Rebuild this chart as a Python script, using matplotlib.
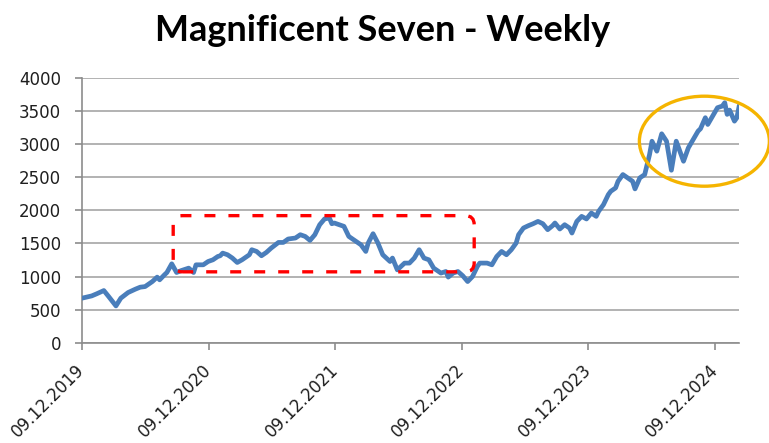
import pandas as pd
import matplotlib.pyplot as plt
import matplotlib.dates as mdates
from matplotlib.patches import FancyBboxPatch, Ellipse
from matplotlib.transforms import IdentityTransform

# Wochen seit Start (09.12.2019) und Index-Stand
weeks = [0, 4, 6, 9, 11, 14, 16, 19, 22, 24, 26, 28, 29, 31, 32, 34, 35, 37, 39, 41,
         44, 46, 47, 50, 52, 54, 56, 57, 58, 60, 62, 64, 66, 69, 70, 72, 74, 76, 78, 81,
         83, 85, 88, 90, 92, 94, 96, 98, 100, 102, 103, 104, 106, 108, 110, 113, 115, 117, 118, 120,
         122, 124, 127, 128, 130, 133, 135, 137, 139, 141, 143, 145, 148, 150, 151, 153, 155, 157, 159, 161,
         163, 164, 167, 169, 171, 173, 175, 177, 179, 180, 182, 184, 186, 188, 190, 192, 194, 195, 197, 199,
         201, 202, 204, 206, 208, 210, 212, 213, 215, 217, 218, 220, 221, 223, 225, 227, 228, 230, 232, 233,
         234, 235, 237, 239, 241, 243, 245, 247, 248, 250, 252, 254, 255, 257, 258, 260, 262, 264, 265, 266,
         267, 269, 270, 271]
values = [673, 707, 738, 788, 697, 556, 673, 758, 809, 839, 848, 900, 924, 991, 950, 1026, 1061, 1192, 1061, 1091,
          1127, 1061, 1177, 1177, 1227, 1253, 1303, 1314, 1354, 1329, 1279, 1212, 1253, 1329, 1405, 1379, 1314, 1364, 1430, 1515,
          1515, 1567, 1582, 1632, 1606, 1546, 1632, 1783, 1870, 1884, 1798, 1809, 1783, 1758, 1606, 1530, 1480, 1379, 1506, 1647,
          1506, 1329, 1227, 1279, 1101, 1203, 1203, 1279, 1405, 1279, 1253, 1127, 1052, 1076, 991, 1052, 1076, 1011, 924, 1000,
          1152, 1203, 1203, 1177, 1303, 1379, 1329, 1405, 1506, 1632, 1733, 1768, 1798, 1833, 1798, 1708, 1768, 1809, 1718, 1783,
          1733, 1657, 1833, 1909, 1870, 1960, 1909, 1985, 2086, 2238, 2288, 2339, 2439, 2541, 2491, 2439, 2324, 2491, 2541, 2692,
          2844, 3045, 2894, 3157, 3045, 2606, 3045, 2844, 2742, 2945, 3071, 3197, 3233, 3400, 3298, 3424, 3551, 3576, 3627, 3450,
          3515, 3348, 3400, 3586]

tick_labels = ['09.12.2019', '09.12.2020', '09.12.2021', '09.12.2022', '09.12.2023', '09.12.2024']

# Markierungen: rotes Rechteck (Seitwaertsphase) und Ellipse (2024)
box_weeks = [37.6, 161.7]
box_values = [1071, 1920]
ellipse_week = 256.6
ellipse_value = 3045

start = pd.Timestamp('2019-12-09')
dates = start + pd.to_timedelta([w * 7 for w in weeks], unit='D')

fig = plt.figure(figsize=(7.69, 4.43), dpi=100)
ax = fig.add_axes([82 / 769, 1 - 342.7 / 443, (739.3 - 82) / 769, (342.7 - 78) / 443])

ax.plot(dates, values, color='#4a7ebb', lw=3.4, solid_joinstyle='round', solid_capstyle='round', zorder=3)

ax.set_ylim(0, 4000)
ax.set_yticks(range(0, 4001, 500))
ax.set_xlim(dates[0], dates[-1])
ax.set_xticks([pd.Timestamp(t[6:] + '-12-09') for t in tick_labels])
ax.set_xticklabels(tick_labels, rotation=45, ha='right', va='center', rotation_mode='anchor')

ax.yaxis.grid(True, color='#a6a6a6', lw=1.2)
ax.set_axisbelow(True)
for s in ['top', 'right']:
    ax.spines[s].set_visible(False)
for s in ['left', 'bottom']:
    ax.spines[s].set_color('#8c8c8c')
    ax.spines[s].set_linewidth(1.2)
ax.tick_params(axis='both', colors='#8c8c8c', length=5, width=1.2, labelcolor='#1f1f1f', labelsize=12)
ax.tick_params(axis='y', pad=10)
ax.tick_params(axis='x', pad=13)

fig.text(0.497, 0.932, 'Magnificent Seven - Weekly', ha='center', va='center',
         fontsize=26, fontweight='bold', family='Lato')

# Rechteck in Pixelkoordinaten zeichnen, damit die Ecken rund bleiben
x0, x1 = [mdates.date2num(start + pd.Timedelta(days=w * 7)) for w in box_weeks]
p0 = ax.transData.transform((x0, box_values[0]))
p1 = ax.transData.transform((x1, box_values[1]))
box = FancyBboxPatch((p0[0], p0[1]), p1[0] - p0[0], p1[1] - p0[1],
                     boxstyle='round,pad=0,rounding_size=9', transform=IdentityTransform(),
                     fill=False, ec='#ff0000', lw=2.4, ls=(0, (3.3, 3.9)), zorder=4)
fig.add_artist(box)

ce = ax.transData.transform((mdates.date2num(start + pd.Timedelta(days=ellipse_week * 7)), ellipse_value))
ell = Ellipse((ce[0], ce[1]), 130, 90, transform=IdentityTransform(),
              fill=False, ec='#f5b400', lw=2.4, zorder=4)
fig.add_artist(ell)

plt.savefig('out.png', dpi=100)
plt.close()
